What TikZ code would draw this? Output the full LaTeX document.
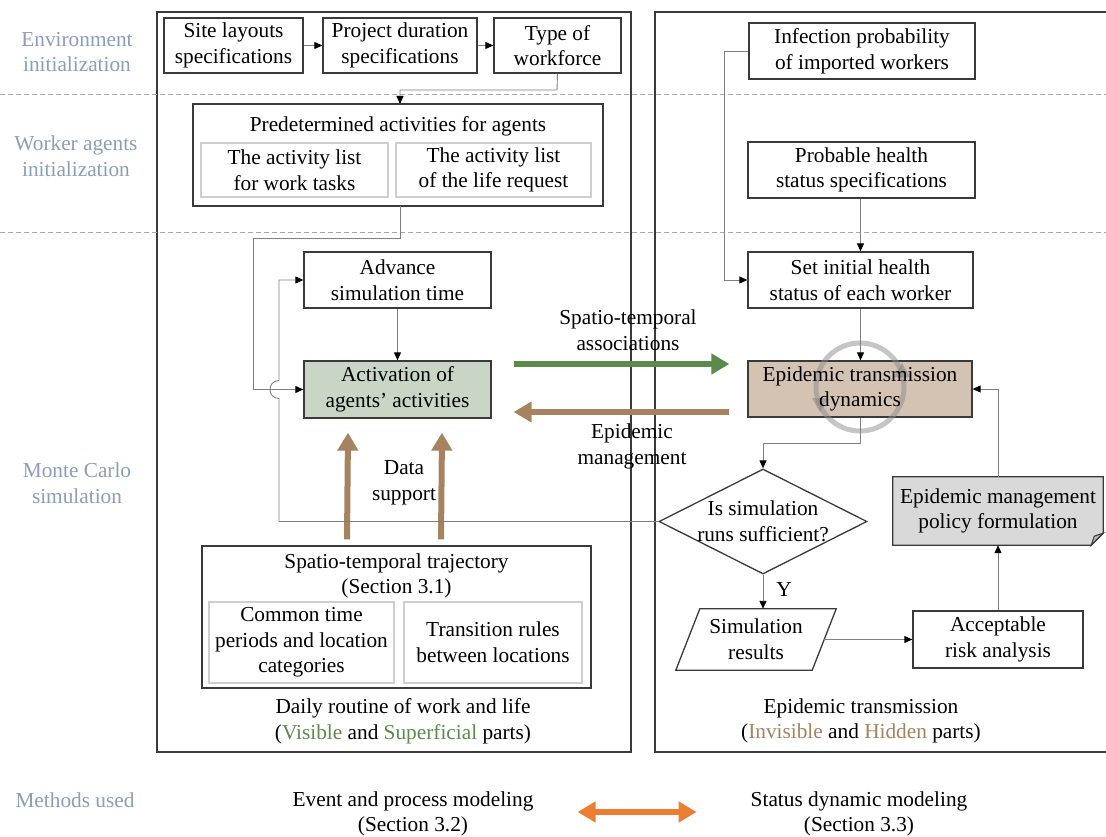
\documentclass[tikz,border=0pt]{standalone}
\usepackage{fontspec}
\setmainfont{Liberation Serif}
\usetikzlibrary{arrows.meta,shapes.geometric,calc}
\definecolor{lblc}{HTML}{8A9DBB}
\definecolor{boxc}{HTML}{3A3A3A}
\definecolor{subc}{HTML}{CFCFCF}
\definecolor{connc}{HTML}{808080}
\definecolor{dashc}{HTML}{A8A8A8}
\definecolor{actfill}{HTML}{C9D6C6}
\definecolor{epifill}{HTML}{D4C3B3}
\definecolor{polfill}{HTML}{D9D9D9}
\definecolor{greenarr}{HTML}{5B8A4B}
\definecolor{brownarr}{HTML}{A6825F}
\definecolor{orangearr}{HTML}{ED7D31}
\begin{document}
\begin{tikzpicture}[x=1pt,y=-1pt,
  font=\fontsize{21.3}{25.6}\selectfont,
  box/.style={draw=boxc, line width=1.3pt, align=center, inner sep=0pt},
  sub/.style={draw=subc, line width=1.2pt, align=center, inner sep=0pt},
  plain/.style={align=center, inner sep=0pt},
  lbl/.style={text=lblc, align=center, inner sep=0pt},
  conn/.style={draw=connc, line width=0.9pt},
  tip/.style={conn, -{Triangle[length=8pt,width=7pt,color=black]}},
  fat/.style={line width=6pt, -{Triangle[length=18pt,width=20pt]}},
  big/.style={draw=boxc, line width=1.6pt},
  sep/.style={draw=dashc, line width=1pt, dash pattern=on 5pt off 3pt}
]
\useasboundingbox (0,0) rectangle (1106,837);

% big frames
\draw[big] (157,12) rectangle (631,752);
\draw[big] (655,12) rectangle (1112,752);

% separators
\draw[sep] (0,95) -- (1106,95);
\draw[sep] (0,233) -- (1106,233);

% side labels
\node[lbl] (l1) at (77,52) {Environment\\initialization};
\node[lbl] (l2) at (76,156) {Worker agents\\initialization};
\node[lbl] (l3) at (77,483) {Monte Carlo\\simulation};
\node[lbl] (l4) at (75,800) {Methods used};

% ---------- left column ----------
\node[box, minimum width=139pt, minimum height=55pt] (site) at (233.5,45.5) {Site layouts\\specifications};
\node[box, minimum width=154pt, minimum height=55pt] (proj) at (400,45.5) {Project duration\\specifications};
\node[box, minimum width=127pt, minimum height=55pt] (type) at (557.5,45.5) {Type of\\workforce};
\draw[tip] (site) -- (proj);
\draw[tip] (proj) -- (type);

\node[box, minimum width=410pt, minimum height=102pt] (pred) at (398,155) {};
\node[plain] (predt) at (398,126) {Predetermined activities for agents};
\node[sub, minimum width=187pt, minimum height=54pt] (lw) at (294.5,170) {The activity list\\for work tasks};
\node[sub, minimum width=195pt, minimum height=54pt] (ll) at (493.5,170) {The activity list\\of the life request};
\draw[tip] (type.south) -- (557,90) -- (400,90) -- (400,104);

\node[box, minimum width=187pt, minimum height=56pt] (adv) at (397.5,280) {Advance\\simulation time};
\node[box, fill=actfill, minimum width=187pt, minimum height=57pt] (act) at (397.5,389.5) {Activation of\\agents’ activities};
\draw[tip] (adv) -- (act);

\draw[tip] (400,206) -- (400,238) -- (253,238) -- (253,389.5) -- (act.west);

\node[box, minimum width=389pt, minimum height=142pt] (spa) at (396.5,617) {};
\node[plain] (spat) at (396.5,576) {Spatio-temporal trajectory\\(Section 3.1)};
\node[sub, minimum width=185pt, minimum height=81pt] (ct) at (301.5,642.5) {Common time\\periods and location\\categories};
\node[sub, minimum width=178pt, minimum height=81pt] (tr) at (493,642.5) {Transition rules\\between locations};

\draw[fat, draw=brownarr, fill=brownarr] ([shift={(-49.5,-6)}]spa.north) -- ([shift={(-49.5,14)}]act.south);
\draw[fat, draw=brownarr, fill=brownarr] ([shift={(44.5,-6)}]spa.north) -- ([shift={(44.5,14)}]act.south);
\node[plain] (ds) at (404,483) {Data\\support};

\node[plain] (daily) at (403,721) {Daily routine of work and life\\(\textcolor{greenarr}{Visible} and \textcolor{greenarr}{Superficial} parts)};

% ---------- right column ----------
\node[box, minimum width=226pt, minimum height=56pt] (inf) at (862,51) {Infection probability\\of imported workers};
\node[box, minimum width=227pt, minimum height=56pt] (prob) at (861.5,170) {Probable health\\status specifications};
\node[box, minimum width=225pt, minimum height=56pt] (set) at (860.5,280) {Set initial health\\status of each worker};
\draw[tip] (inf.west) -- (724,51) -- (724,280) -- (set.west);
\draw[tip] (prob.south -| set.north) -- (set.north);

\node[box, fill=epifill, minimum width=224pt, minimum height=56pt] (epi) at (860,389) {};
\draw[black!45, line width=5pt, opacity=0.5] (860,387) circle[radius=44pt];
\fill[black!50, opacity=0.5] (812,398) -- (828,398) -- (820,412) -- cycle;
\fill[black!50, opacity=0.5] (894,377) -- (910,377) -- (902,363) -- cycle;
\node[plain] (epit) at (epi) {Epidemic transmission\\dynamics};
\draw[tip] (set.south) -- (set.south |- epi.north);

\node[draw=boxc, line width=1.3pt, diamond, minimum width=208pt, minimum height=105pt, inner sep=0pt] (dia) at (763,521.5) {};
\node[plain] (diat) at (dia) {Is simulation\\runs sufficient?};
\draw[tip] (epi.south) -- (860,443) -- (763,443) -- (dia.north);

\node[plain, minimum width=136pt, minimum height=61pt] (sim) at (756,639.5) {Simulation\\results};
\draw[draw=boxc, line width=1.3pt] ([xshift=12pt]sim.north west) -- ([xshift=12pt]sim.north east) -- ([xshift=-12pt]sim.south east) -- ([xshift=-12pt]sim.south west) -- cycle;
\draw[tip] (dia.south) -- (dia.south |- sim.north);
\node[plain] (ylab) at (784,590) {Y};

\node[box, minimum width=170pt, minimum height=57pt] (acc) at (998,639.5) {Acceptable\\risk analysis};
\draw[tip] (sim.east) -- (acc.west);

\node[plain, minimum width=210pt, minimum height=68pt] (pol) at (998,511) {};
\draw[draw=boxc, line width=1.3pt, fill=polfill] (pol.north west) -- (pol.north east) -- ([yshift=12pt]pol.south east) -- ([xshift=-12pt]pol.south east) -- (pol.south west) -- cycle;
\draw[draw=boxc, line width=1pt, fill=black!30] ([yshift=12pt]pol.south east) -- ([xshift=-9pt,yshift=9pt]pol.south east) -- ([xshift=-12pt]pol.south east) -- cycle;
\node[plain] (polt) at (pol) {Epidemic management\\policy formulation};
\draw[tip] (acc.north) -- (pol.south -| acc.north);
\draw[tip] (pol.north) -- (998,389) -- (epi.east);

\node[plain] (epl) at (861,721) {Epidemic transmission\\(\textcolor{brownarr}{Invisible} and \textcolor{brownarr}{Hidden} parts)};

% loop back (No) with hop
\draw[tip] (dia.west) -- (279,521.5) -- (279,398.5) .. controls (267,398.5) and (267,380.5) .. (279,380.5) -- (279,280) -- (adv.west);

% cross-column fat arrows
\draw[fat, draw=greenarr, fill=greenarr] ([shift={(22,-25.5)}]act.east) -- ([shift={(-18,-25)}]epi.west);
\draw[fat, draw=brownarr, fill=brownarr] ([shift={(-18,23)}]epi.west) -- ([shift={(22,22.5)}]act.east);
\node[plain] (sta) at (628,330.5) {Spatio-temporal\\associations};
\node[plain] (em) at (632,446.5) {Epidemic\\management};

% bottom
\node[plain] (ev) at (413,814) {Event and process modeling\\(Section 3.2)};
\node[plain] (sd) at (859,814) {Status dynamic modeling\\(Section 3.3)};
\draw[line width=6pt, draw=orangearr, fill=orangearr, {Triangle[length=18pt,width=20pt]}-{Triangle[length=18pt,width=20pt]}] ([shift={(44,-2)}]ev.east) -- ([shift={(-54,-2)}]sd.west);

\end{tikzpicture}
\end{document}
